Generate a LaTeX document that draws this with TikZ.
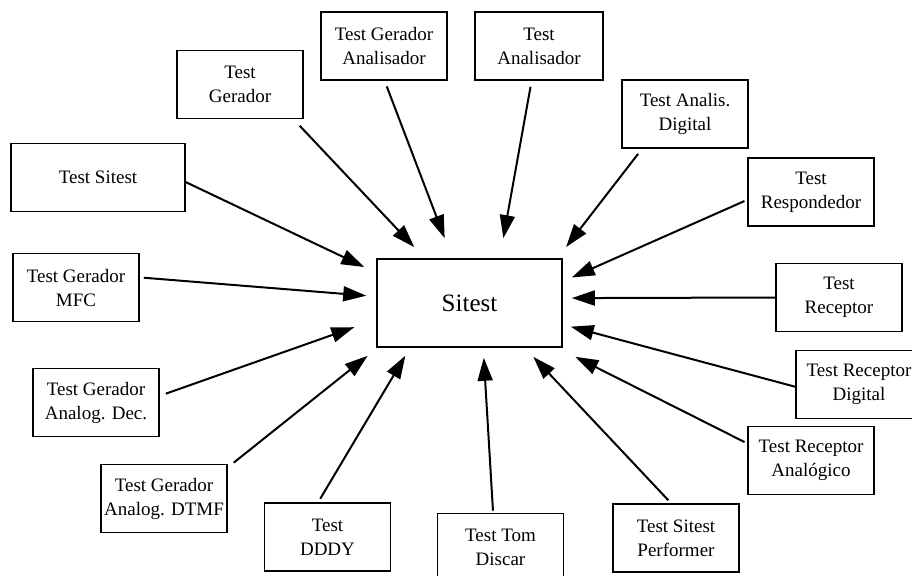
\documentclass[tikz,border=0pt]{standalone}
\usepackage{fontspec}
\setmainfont{Liberation Serif}
\usetikzlibrary{arrows}
\usetikzlibrary{arrows.meta}

\begin{document}
\begin{tikzpicture}[x=0.5pt,y=-0.5pt,
    box/.style={draw,line width=0.8pt,minimum width=63pt,minimum height=34pt,align=center,inner sep=1pt,font=\fontsize{9.5}{12}\selectfont},
    arr/.style={line width=1pt,-{Triangle[length=11.5pt,width=7.5pt]}}]
    \useasboundingbox (0,0) rectangle (912,575);
    \node[box,minimum width=92.5pt,minimum height=44pt,font=\fontsize{12.5}{15}\selectfont] (sitest) at (469.5,303) {Sitest};
    \node[box,minimum width=87pt] (tsit) at (98,177.5) {Test Sitest};
    \node[box] (gen) at (240,84.5) {Test\\Gerador};
    \node[box] (genan) at (384,46) {Test Gerador\\Analisador};
    \node[box,minimum width=64pt] (ana) at (539,46) {Test\\Analisador};
    \node[box] (anadig) at (685,114) {Test Analis.\\Digital};
    \node[box] (resp) at (811,192) {Test\\Respondedor};
    \node[box] (rec) at (839,297.5) {Test\\Receptor};
    \node[box] (recdig) at (859,384.5) {Test Receptor\\Digital};
    \node[box] (recan) at (811,460.5) {Test Receptor\\Anal\'ogico};
    \node[box] (perf) at (676,538) {Test Sitest\\Performer};
    \node[box] (tom) at (500.5,547.5) {Test Tom\\Discar};
    \node[box] (dddy) at (327.5,537) {Test\\DDDY};
    \node[box] (dtmf) at (164,498.5) {Test Gerador\\Analog. DTMF};
    \node[box] (dec) at (96,402.5) {Test Gerador\\Analog. Dec.};
    \node[box] (mfc) at (76,287.5) {Test Gerador\\MFC};

    \draw[arr,shorten >=6.6pt] (tsit.-3) -- (sitest.162.4);
    \draw[arr,shorten <=4.5pt,shorten >=7.6pt] (gen.-33) -- (sitest.135);
    \draw[arr,shorten <=3pt,shorten >=10.7pt] (genan.-89) -- (sitest.111);
    \draw[arr,shorten <=3pt,shorten >=10.2pt] (ana.-102) -- (sitest.56.9);
    \draw[arr,shorten <=3.2pt,shorten >=7.1pt] (anadig.-141) -- (sitest.27.8);
    \draw[arr,shorten <=1.5pt,shorten >=4.9pt] (resp.187) -- (sitest.13.4);
    \draw[arr,shorten >=4.5pt] (rec.west) -- (sitest.3.7);
    \draw[arr,shorten >=4.1pt] (recdig.182) -- (sitest.-13.3);
    \draw[arr,shorten <=1.5pt,shorten >=10pt] (recan.165.7) -- (sitest.-27.8);
    \draw[arr,shorten <=2pt,shorten >=6.2pt] (perf.98.7) -- (sitest.-39.1);
    \draw[arr,shorten <=1pt,shorten >=5pt] (tom.102.8) -- (sitest.-73.7);
    \draw[arr,shorten <=2pt,shorten >=4.6pt] (dddy.105.3) -- (sitest.-143.2);
    \draw[arr,shorten <=3.8pt,shorten >=6.4pt] (dtmf.26.7) -- (sitest.-154.6);
    \draw[arr,shorten <=3.2pt,shorten >=11.6pt] (dec.6.7) -- (sitest.190.1);
    \draw[arr,shorten <=2pt,shorten >=5pt] (mfc.9.8) -- (sitest.176.8);
  \end{tikzpicture}
\end{document}
